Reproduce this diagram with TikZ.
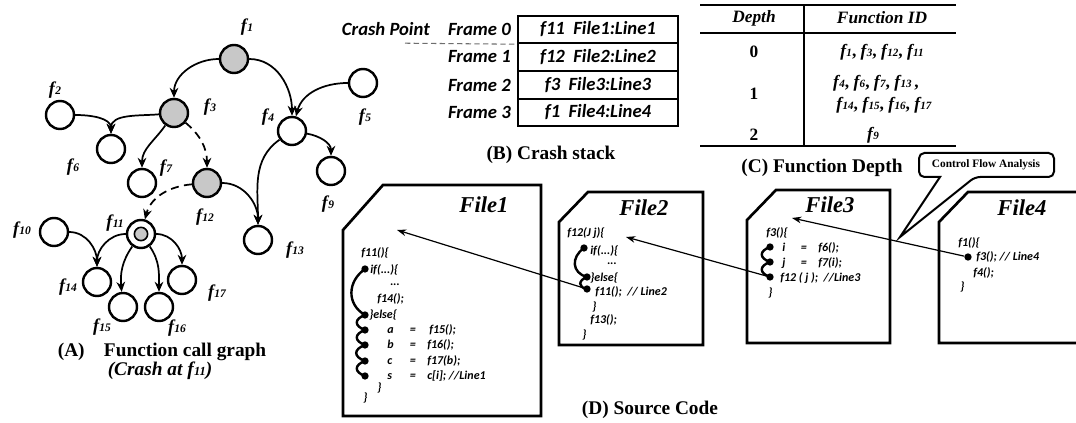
\documentclass[tikz,border=0pt]{standalone}
\usepackage{fontspec}
\setmainfont{Liberation Serif}
\newfontfamily\calib{Carlito}
\usetikzlibrary{arrows.meta}

\definecolor{nodegray}{RGB}{200,200,200}
\definecolor{cutgray}{RGB}{110,110,110}

\makeatletter
\newcommand\fn[1]{{\bfseries\itshape f\kern.3pt\fontsize{\fpeval{0.64*\f@size}}{1}\selectfont #1}}
\makeatother
\newcommand\asg[3]{\makebox[#1][l]{#2}\makebox[13pt][l]{=}#3}

\tikzstyle{fnode} = [circle, draw, line width=1.8pt, minimum size=21pt, inner sep=0pt]
\tikzstyle{hit} = [fnode, fill=nodegray]
\tikzstyle{flabel} = [font=\fontsize{13.5}{15}\selectfont, inner sep=0pt]
\tikzstyle{arrow} = [line width=1.3pt, -{Stealth[length=7.5pt, width=6.5pt]}]
\tikzstyle{darrow} = [arrow, dash pattern=on 6pt off 4pt]
\tikzstyle{frame} = [rectangle, draw, line width=1.5pt, minimum width=120pt, minimum height=20.6pt, font=\calib\bfseries\itshape\fontsize{14}{16}\selectfont]
\tikzstyle{framelabel} = [anchor=east, inner sep=0pt, font=\calib\bfseries\itshape\fontsize{14}{16}\selectfont]
\tikzstyle{caption} = [font=\bfseries\fontsize{14.5}{17}\selectfont, inner sep=0pt]
\tikzstyle{cell} = [font=\bfseries\fontsize{13}{15}\selectfont, inner sep=0pt]
\tikzstyle{rule} = [line width=1.1pt]
\tikzstyle{filebox} = [line width=2pt, line join=miter]
\tikzstyle{filename} = [font=\bfseries\itshape\fontsize{17}{19}\selectfont, inner sep=0pt]
\tikzstyle{code} = [anchor=west, inner sep=0pt, font=\calib\bfseries\itshape\fontsize{9}{10}\selectfont]
\tikzstyle{dot} = [circle, fill, inner sep=0pt, minimum size=5.5pt]
\tikzstyle{wave} = [line width=1.8pt]
\tikzstyle{call} = [line width=0.9pt, -{Stealth[length=7pt, width=5pt]}]

\begin{document}
\begin{tikzpicture}[x=0.75pt, y=-0.75pt]
\useasboundingbox (0,0) rectangle (1076,423);

%% (A) CALL GRAPH

\node (f1) [hit] at (234,59) {};
\node (f2) [fnode] at (60,115) {};
\node (f3) [hit] at (174,113) {};
\node (f4) [fnode] at (292,131) {};
\node (f5) [fnode] at (363,83) {};
\node (f6) [fnode] at (111,149) {};
\node (f7) [fnode] at (142,183) {};
\node (f9) [fnode] at (331,171) {};
\node (f10) [fnode] at (54,232) {};
\node (f11) [fnode] at (141,234) {};
\node (f11core) [circle, draw, line width=1.2pt, fill=nodegray, minimum size=10pt, inner sep=0pt] at (f11) {};
\node (f12) [hit] at (207,183) {};
\node (f13) [fnode] at (258,240) {};
\node (f14) [fnode] at (97,282) {};
\node (f15) [fnode] at (123,307) {};
\node (f16) [fnode] at (159,307) {};
\node (f17) [fnode] at (182,280) {};

\node (l1) [flabel] at (247,27) {\fn{1}};
\node (l2) [flabel] at (55,90) {\fn{2}};
\node (l3) [flabel] at (210,107) {\fn{3}};
\node (l4) [flabel] at (268,117) {\fn{4}};
\node (l5) [flabel] at (365,117) {\fn{5}};
\node (l6) [flabel] at (73,167) {\fn{6}};
\node (l7) [flabel] at (166,168) {\fn{7}};
\node (l9) [flabel] at (328,204) {\fn{9}};
\node (l10) [flabel] at (22,230) {\fn{10}};
\node (l11) [flabel] at (115,223) {\fn{11}};
\node (l12) [flabel] at (205,217) {\fn{12}};
\node (l13) [flabel] at (295,250) {\fn{13}};
\node (l14) [flabel] at (68,287) {\fn{14}};
\node (l15) [flabel] at (102,327) {\fn{15}};
\node (l16) [flabel] at (177,328) {\fn{16}};
\node (l17) [flabel] at (217,293) {\fn{17}};

\draw [arrow] (f1) to[out=180, in=90] (f3);
\draw [arrow] (f1) to[out=0, in=90] (f4);
\draw [arrow] (f5) to[out=180, in=75] (f4);
\draw [arrow] (f2) to[out=0, in=90] (f6);
\draw [arrow] (f3) to[out=185, in=90] (f6);
\draw [arrow] (f3) to[out=235, in=90] (f7);
\draw [darrow] (f3) to[out=-40, in=90] (f12);
\draw [arrow] (f12) to[out=0, in=90] (f13);
\draw [arrow] (f4) to[out=215, in=90] (f13);
\draw [arrow] (f4) to[out=-10, in=90] (f9);
\draw [darrow] (f12) to[out=185, in=75] (f11);
\draw [arrow] (f10) to[out=0, in=90] (f14);
\draw [arrow] (f11) to[out=180, in=90] (f14);
\draw [arrow] (f11) to[out=235, in=95] (f15);
\draw [arrow] (f11) to[out=-55, in=90] (f16);
\draw [arrow] (f11) to[out=0, in=90] (f17);

\node (capA) [caption] at (162,352) {(A)\quad Function call graph};
\node (capA2) [caption] at (160,371) {\itshape (Crash at \fn{11})};

%% (B) CRASH STACK

\node (fr0) [frame] at (598,29.5) {f11~~File1:Line1};
\node (fr1) [frame] at (598,57) {f12~~File2:Line2};
\node (fr2) [frame] at (598,85) {f3~~File3:Line3};
\node (fr3) [frame] at (598,112.5) {f1~~File4:Line4};
\node (n0) [framelabel] at (511,29.5) {Frame 0};
\node (n1) [framelabel] at (511,57) {Frame 1};
\node (n2) [framelabel] at (511,85) {Frame 2};
\node (n3) [framelabel] at (511,112.5) {Frame 3};
\node (crash) [framelabel] at (430,29.5) {Crash Point};
\coordinate (cut) at (405,43.2);
\draw [cutgray, line width=0.8pt, dash pattern=on 4pt off 2.5pt] (cut) -- (fr0.south west);

\node (capB) [caption] at (551,155) {(B) Crash stack};

%% (C) FUNCTION DEPTH

\draw [rule] (700,5) -- (956,5);
\draw [rule] (700,33) -- (956,33);
\draw [rule] (700,146) -- (956,146);
\draw [rule] (804,5) -- (804,146);
\node (hd) [cell] at (754,18) {\itshape Depth};
\node (hf) [cell] at (882,18) {\itshape Function ID};
\node (d0) [cell] at (754,52) {0};
\node (d1) [cell] at (754,94) {1};
\node (d2) [cell] at (754,135) {2};
\node (r0) [cell] at (882,52) {\fn{1}, \fn{3}, \fn{12}, \fn{11}};
\node (r1a) [cell] at (876,83) {\fn{4}, \fn{6}, \fn{7}, \fn{13}\,,};
\node (r1b) [cell] at (884,105) {\fn{14}, \fn{15}, \fn{16}, \fn{17}};
\node (r2) [cell] at (873,135) {\fn{9}};

\node (capC) [caption] at (822,168) {(C) Function Depth};

%% (D) SOURCE CODE

\draw [filebox] (343,230) -- (383,185) -- (541,185) -- (541,416) -- (343,416) -- cycle;
\draw [filebox] (559,222) -- (588,192) -- (703,192) -- (703,345) -- (559,345) -- cycle;
\draw [filebox] (747,220) -- (776,190) -- (890,190) -- (890,343) -- (747,343) -- cycle;
\draw [filebox] (1082,343) -- (939,343) -- (939,222) -- (968,192) -- (1082,192);

\node (file1) [filename] at (484,205) {File1};
\node (file2) [filename] at (644,208) {File2};
\node (file3) [filename] at (830,205) {File3};
\node (file4) [filename] at (1022,208) {File4};

% File1
\node (c1a) [code] at (361,253) {f11()\{};
\node (c1b) [code] at (370,270) {if(...)\{};
\node (c1c) [code] at (390,285) {...};
\node (c1d) [code] at (377,299) {f14();};
\node (c1e) [code] at (369,315) {\}else\{};
\node (c1f) [code] at (387,330) {\asg{17pt}{a}{\,f15();}};
\node (c1g) [code] at (387,345) {\asg{17pt}{b}{f16();}};
\node (c1h) [code] at (387,361) {\asg{17pt}{c}{f17(b);}};
\node (c1i) [code] at (387,376) {\asg{17pt}{s}{c[i]; //Line1}};
\node (c1j) [code] at (377,388) {\}};
\node (c1k) [code] at (363,398) {\}};
\node (d1if) [dot] at (365,269) {};
\node (d1else) [dot] at (365,315) {};
\node (d1a) [dot] at (365,330) {};
\node (d1b) [dot] at (365,345) {};
\node (d1c) [dot] at (365,361) {};
\node (d1s) [dot] at (365,376) {};
\draw [wave] (d1if.center) to[out=215, in=150, looseness=1.2] (d1else.center)
  to[out=200, in=160, looseness=2] (d1a.center)
  to[out=200, in=160, looseness=2] (d1b.center)
  to[out=200, in=160, looseness=2] (d1c.center)
  to[out=200, in=160, looseness=2] (d1s.center);

% File2
\node (c2a) [code] at (567,233) {f12(J j)\{};
\node (c2b) [code] at (590,251) {if(...)\{};
\node (c2c) [code] at (607,264) {...};
\node (c2d) [code] at (590,278) {\}else\{};
\node (c2e) [code] at (595,292) {f11();~~// Line2};
\node (c2f) [code] at (592,307) {\}};
\node (c2g) [code] at (590,320) {f13();};
\node (c2h) [code] at (582,335) {\}};
\node (d2if) [dot] at (584,248) {};
\node (d2else) [dot] at (587,277) {};
\node (d2call) [dot] at (587,289) {};
\draw [wave] (d2if.center) to[out=215, in=165, looseness=1.4] (d2else.center)
  to[out=200, in=170, looseness=2] (d2call.center);

% File3
\node (c3a) [code] at (766,233) {f3()\{};
\node (c3b) [code] at (782,248) {\asg{14pt}{i}{f6();}};
\node (c3c) [code] at (782,263) {\asg{14pt}{j}{f7(i);}};
\node (c3d) [code] at (780,278) {f12 ( j );~~//Line3};
\node (c3e) [code] at (768,293) {\}};
\node (d3i) [dot] at (770,247) {};
\node (d3j) [dot] at (770,262) {};
\node (d3call) [dot] at (770,277) {};
\draw [wave] (d3i.center) to[out=200, in=160, looseness=2] (d3j.center)
  to[out=200, in=160, looseness=2] (d3call.center);

% File4
\node (c4a) [code] at (958,243) {f1()\{};
\node (c4b) [code] at (976,257) {f3(); // Line4};
\node (c4c) [code] at (973,273) {f4();};
\node (c4d) [code] at (960,287) {\}};
\node (d4call) [dot] at (968,257) {};

%% CALLS BETWEEN FILES

\coordinate (t1) at (397,230);
\coordinate (t2) at (626,237);
\coordinate (t3) at (792,218);
\draw [call] (d4call) -- (t3);
\draw [call] (d3call) -- (t2);
\draw [call] (d2call) -- (t1);

\draw [line width=1.5pt, rounded corners=4pt] (940,177) -- (919,177) -- (919,153) -- (1054,153) -- (1054,177) -- (975,177) [sharp corners] -- (900,237) -- cycle;
\node (cfa) [font=\bfseries\fontsize{8.5}{10}\selectfont] at (986,165) {Control Flow Analysis};

\node (capD) [caption] at (650,410) {(D) Source Code};

\end{tikzpicture}
\end{document}
